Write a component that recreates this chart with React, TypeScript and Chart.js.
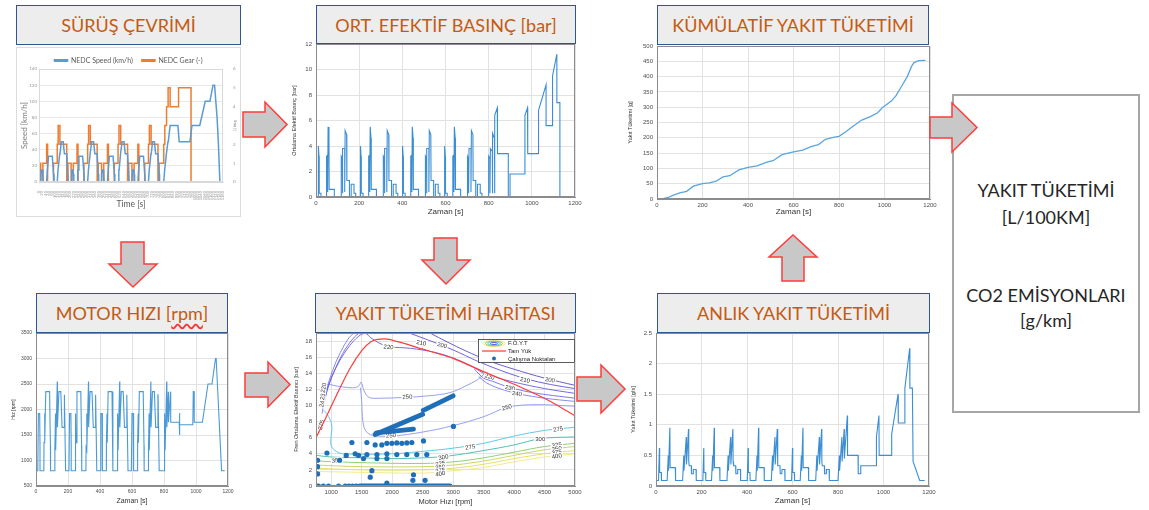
import React, { useEffect, useRef } from "react";
import { Chart, registerables } from "chart.js";

Chart.register(...registerables);

type P = [number, number];

// ---------------- DATA ----------------
// NEDC driving cycle (time s, speed km/h)
const NEDC_SPEED: P[] = [
  [0,0],[11,0],[15,15],[23,15],[25,10],[28,0],[49,0],[54,15],[56,15],[61,32],[85,32],[93,10],[96,0],[117,0],[122,15],[124,15],[133,35],[135,35],[143,50],[155,50],[163,35],[178,35],[185,10],[188,0],
  [206,0],[210,15],[218,15],[220,10],[223,0],[244,0],[249,15],[251,15],[256,32],[280,32],[288,10],[291,0],[312,0],[317,15],[319,15],[328,35],[330,35],[338,50],[350,50],[358,35],[373,35],[380,10],[383,0],
  [401,0],[405,15],[413,15],[415,10],[418,0],[439,0],[444,15],[446,15],[451,32],[475,32],[483,10],[486,0],[507,0],[512,15],[514,15],[523,35],[525,35],[533,50],[545,50],[553,35],[568,35],[575,10],[578,0],
  [596,0],[600,15],[608,15],[610,10],[613,0],[634,0],[639,15],[641,15],[646,32],[670,32],[678,10],[681,0],[702,0],[707,15],[709,15],[718,35],[720,35],[728,50],[740,50],[748,35],[763,35],[770,10],[773,0],
  [800,0],[806,15],[808,15],[817,35],[819,35],[827,50],[829,50],[841,70],[891,70],[899,50],[968,50],[981,70],[1031,70],[1066,100],[1096,100],[1116,120],[1126,120],[1142,80],[1150,50],[1160,0],[1180,0],
];
// NEDC gear (time s, gear from that time on)
const NEDC_GEAR: P[] = [
  [0,0],[11,1],[25,0],[49,1],[55,2],[93,0],[117,1],[123,2],[134,3],[178,2],[185,0],
  [206,1],[220,0],[244,1],[250,2],[288,0],[312,1],[318,2],[329,3],[373,2],[380,0],
  [401,1],[415,0],[439,1],[445,2],[483,0],[507,1],[513,2],[524,3],[568,2],[575,0],
  [596,1],[610,0],[634,1],[640,2],[678,0],[702,1],[708,2],[719,3],[763,2],[770,0],
  [800,1],[807,2],[818,3],[828,4],[841,5],[895,4],[975,5],[1160,0],[1180,0],
];
// Mean effective pressure (time s, bar)
const BMEP_BAR: P[] = [
  [0,0],[11,0],[11,4.0],[14,3.2],[15,0.3],[23,0.3],[23,0],[49,0],[49,3.2],[54,3.3],[54,0.4],[56,5.5],[60,4.6],[61,0.6],[85,0.6],[85,0],[117,0],[117,3.2],[122,3.0],[122,0.3],[124,3.8],[133,3.8],[133,0.4],[135,5.2],[142,4.9],[143,1.3],[155,1.3],[155,0],[163,0],[163,1.0],[176,1.0],[176,0.3],[184,0.3],[184,0],
  [206,0],[206,4.0],[209,3.2],[210,0.3],[218,0.3],[218,0],[244,0],[244,3.2],[249,3.3],[249,0.4],[251,5.5],[255,4.6],[256,0.6],[280,0.6],[280,0],[312,0],[312,3.2],[317,3.0],[317,0.3],[319,3.8],[328,3.8],[328,0.4],[330,5.2],[337,4.9],[338,1.3],[350,1.3],[350,0],[358,0],[358,1.0],[371,1.0],[371,0.3],[379,0.3],[379,0],
  [401,0],[401,4.0],[404,3.2],[405,0.3],[413,0.3],[413,0],[439,0],[439,3.2],[444,3.3],[444,0.4],[446,5.5],[450,4.6],[451,0.6],[475,0.6],[475,0],[507,0],[507,3.2],[512,3.0],[512,0.3],[514,3.8],[523,3.8],[523,0.4],[525,5.2],[532,4.9],[533,1.3],[545,1.3],[545,0],[553,0],[553,1.0],[566,1.0],[566,0.3],[574,0.3],[574,0],
  [596,0],[596,4.0],[599,3.2],[600,0.3],[608,0.3],[608,0],[634,0],[634,3.2],[639,3.3],[639,0.4],[641,5.5],[645,4.6],[646,0.6],[670,0.6],[670,0],[702,0],[702,3.2],[707,3.0],[707,0.3],[709,3.8],[718,3.8],[718,0.4],[720,5.2],[727,4.9],[728,1.3],[740,1.3],[740,0],[748,0],[748,1.0],[761,1.0],[761,0.3],[769,0.3],[769,0],
  [800,0],[800,3.2],[806,3.0],[806,0.3],[808,3.8],[817,3.6],[817,0.3],[819,5.0],[827,4.6],[827,0.3],[829,6.4],[840,7.0],[841,3.4],[891,3.4],[891,0],[899,0],[899,1.8],[968,1.8],[968,6.4],[980,7.0],[981,3.4],[1031,3.4],[1031,6.8],[1066,8.8],[1066,5.6],[1096,5.6],[1096,9.5],[1116,11.2],[1116,7.4],[1130,7.4],[1130,0],[1180,0],
];
// Cumulative fuel (time s, g)
const CUMULATIVE_FUEL_G: P[] = [
  [0,0],[30,2],[50,5],[70,12],[100,20],[130,25],[160,42],[200,50],[230,53],[260,58],[290,72],[320,76],[360,95],[400,103],[440,108],[480,120],[510,125],[550,145],[590,152],[640,160],[680,172],[710,178],[740,195],[780,202],[800,205],[830,220],[860,237],[900,258],[940,270],[970,282],[990,298],[1030,320],[1050,337],[1070,362],[1100,400],[1120,435],[1130,446],[1150,452],[1180,453],
];
// Engine speed (time s, rpm)
const ENGINE_SPEED_RPM: P[] = [
  [0,800],[11,800],[15,1920],[23,1920],[25,1300],[25,800],[49,800],[50,1350],[54,1920],[55,1350],[61,2350],[85,2350],[90,1300],[91,800],[117,800],[118,1250],[122,1920],[123,1200],[133,2550],[134,1650],[143,2350],[155,2350],[163,1650],[176,1650],[177,2290],[178,2290],[185,800],
  [206,800],[210,1920],[218,1920],[220,1300],[220,800],[244,800],[245,1350],[249,1920],[250,1350],[256,2350],[280,2350],[285,1300],[286,800],[312,800],[313,1250],[317,1920],[318,1200],[328,2550],[329,1650],[338,2350],[350,2350],[358,1650],[371,1650],[372,2290],[373,2290],[380,800],
  [401,800],[405,1920],[413,1920],[415,1300],[415,800],[439,800],[440,1350],[444,1920],[445,1350],[451,2350],[475,2350],[480,1300],[481,800],[507,800],[508,1250],[512,1920],[513,1200],[523,2550],[524,1650],[533,2350],[545,2350],[553,1650],[566,1650],[567,2290],[568,2290],[575,800],
  [596,800],[600,1920],[608,1920],[610,1300],[610,800],[634,800],[635,1350],[639,1920],[640,1350],[646,2350],[670,2350],[675,1300],[676,800],[702,800],[703,1250],[707,1920],[708,1200],[718,2550],[719,1650],[728,2350],[740,2350],[748,1650],[761,1650],[762,2290],[763,2290],[770,800],
  [800,800],[801,1250],[806,1920],[807,1200],[817,2550],[818,1650],[827,2350],[828,1750],[841,2350],[842,1750],[895,1750],[896,1500],[898,1930],[899,1700],[980,1700],[983,2350],[988,2350],[989,1750],[1040,1750],[1075,2500],[1100,2500],[1122,3000],[1126,3000],[1160,800],[1180,800],
];
// Instantaneous fuel consumption (time s, g/s)
const INSTANT_FUEL_GS: P[] = [
  [0,0.09],[11,0.09],[15,0.62],[16,0.22],[23,0.22],[24,0.09],[49,0.09],[54,0.5],[55,0.25],[61,0.95],[62,0.3],[85,0.3],[86,0.09],[117,0.09],[122,0.5],[123,0.25],[133,0.8],[134,0.35],[143,0.93],[144,0.4],[146,0.33],[155,0.33],[156,0.2],[163,0.2],[164,0.27],[176,0.27],[177,0.09],
  [206,0.09],[210,0.62],[211,0.22],[218,0.22],[219,0.09],[244,0.09],[249,0.5],[250,0.25],[256,0.95],[257,0.3],[280,0.3],[281,0.09],[312,0.09],[317,0.5],[318,0.25],[328,0.8],[329,0.35],[338,0.93],[339,0.4],[341,0.33],[350,0.33],[351,0.2],[358,0.2],[359,0.27],[371,0.27],[372,0.09],
  [401,0.09],[405,0.62],[406,0.22],[413,0.22],[414,0.09],[439,0.09],[444,0.5],[445,0.25],[451,0.95],[452,0.3],[475,0.3],[476,0.09],[507,0.09],[512,0.5],[513,0.25],[523,0.8],[524,0.35],[533,0.93],[534,0.4],[536,0.33],[545,0.33],[546,0.2],[553,0.2],[554,0.27],[566,0.27],[567,0.09],
  [596,0.09],[600,0.62],[601,0.22],[608,0.22],[609,0.09],[634,0.09],[639,0.5],[640,0.25],[646,0.95],[647,0.3],[670,0.3],[671,0.09],[702,0.09],[707,0.5],[708,0.25],[718,0.8],[719,0.35],[728,0.93],[729,0.4],[731,0.33],[740,0.33],[741,0.2],[748,0.2],[749,0.27],[761,0.27],[762,0.09],
  [800,0.09],[806,0.5],[807,0.25],[817,0.8],[818,0.4],[827,0.93],[828,0.45],[841,1.15],[842,0.5],[888,0.5],[889,0.2],[899,0.2],[900,0.33],[968,0.33],[969,0.8],[980,1.15],[981,0.5],[1035,0.5],[1036,0.85],[1064,1.5],[1065,1.03],[1093,1.03],[1094,1.6],[1115,2.25],[1116,1.6],[1127,1.6],[1130,0.4],[1159,0.09],[1181,0.09],
];
// Fuel map: full load curve (rpm, bar)
const FULL_LOAD: P[] = [[750,6.0],[900,8.3],[1100,11.5],[1300,14.5],[1500,16.8],[1650,17.9],[1760,18.2],[1950,18.2],[2500,17.0],[3000,15.85],[3500,14.2],[4100,12.3],[4600,10.5],[5000,8.7]];
// BSFC contour lines (g/kWh) – each a list of segments of (rpm, bar)
const BSFC_200: P[][] = [[[2620,19],[2900,17.9],[3200,16.8],[3600,15.5],[4000,14.5],[4500,13.4],[5000,12.5]]];
const BSFC_210: P[][] = [[[2280,19],[2600,18.1],[3000,16.9],[3400,15.5],[3800,14.3],[4200,13.3],[4600,12.6],[5000,12.1]]];
const BSFC_220: P[][] = [[[870,10.2],[970,12.8],[1120,15.3],[1300,17.4],[1450,18.6],[1560,18.95],[1650,18.4],[1800,17.7],[1950,17.3],[2300,17.1],[2700,16.6],[3000,15.9],[3300,14.9],[3500,14.0],[3700,13.5],[4000,12.9],[4500,12.1],[5000,11.5]]];
const BSFC_230: P[][] = [
  [[860,9.6],[950,12.3],[1080,14.8],[1230,17.0],[1380,18.5],[1460,19]],
  [[3350,14.5],[3500,13.4],[3650,13.0],[3900,12.3],[4300,11.6],[5000,10.9]],
];
const BSFC_240: P[][] = [
  [[850,9.0],[920,11.8],[1020,14.3],[1150,16.6],[1290,18.4],[1370,19]],
  [[3420,13.6],[3550,12.8],[3800,12.0],[4100,11.4],[4500,10.9],[5000,10.5]],
];
const BSFC_250: P[][] = [
  [[830,11.6],[900,12.6],[1100,12.4],[1350,12.2],[1450,12.4],[1490,12.9],[1540,11.8],[1620,11.0],[1800,10.9],[2200,11.0],[2600,11.2],[2950,11.6],[3200,12.4],[3400,13.2],[3520,14.0]],
  [[1480,12.2],[1500,10.5],[1520,8.0],[1570,6.8],[1680,6.3],[2000,6.2],[2500,6.7],[3000,7.5],[3500,8.6],[3900,9.8],[4400,10.1],[5000,9.9]],
];
const BSFC_275: P[][] = [[[880,9.4],[960,8.6],[1010,7.4],[995,6.0],[1000,5.0],[1080,4.3],[1200,4.0],[2000,4.0],[2500,4.3],[3000,4.7],[3500,5.3],[4000,6.2],[4500,6.9],[5000,7.3]]];
const BSFC_300: P[][] = [[[760,3.8],[1000,3.6],[1500,3.5],[2000,3.4],[2500,3.5],[2900,3.7],[3500,4.4],[4000,5.1],[4450,5.9],[5000,6.1]]];
const BSFC_325: P[][] = [[[760,3.1],[1500,2.9],[2500,2.8],[3000,3.0],[3500,3.5],[4000,4.2],[4500,4.9],[5000,5.3]]];
const BSFC_350: P[][] = [[[760,2.6],[1500,2.4],[2500,2.4],[3000,2.6],[3500,3.1],[4000,3.8],[4500,4.5],[5000,4.9]]];
const BSFC_375: P[][] = [[[760,2.2],[1500,2.0],[2500,2.0],[3000,2.2],[3500,2.7],[4000,3.4],[4500,4.0],[5000,4.4]]];
const BSFC_400: P[][] = [[[760,1.8],[1500,1.7],[2500,1.6],[3000,1.9],[3500,2.3],[4000,3.0],[4500,3.6],[5000,4.0]]];
const BSFC_LEVELS: [number, P[][]][] = [[200,BSFC_200],[210,BSFC_210],[220,BSFC_220],[230,BSFC_230],[240,BSFC_240],[250,BSFC_250],[275,BSFC_275],[300,BSFC_300],[325,BSFC_325],[350,BSFC_350],[375,BSFC_375],[400,BSFC_400]];
// contour labels: text, rpm, bar, angle (deg)
const CONTOUR_LABELS: [string, number, number, number][] = [
  ["220",1940,17.3,5],["210",2480,17.8,12],["200",2820,17.5,15],
  ["220",3600,13.6,15],["210",4180,13.2,12],["200",4590,13.2,10],["230",3934,12.2,12],["240",4050,11.5,10],
  ["250",3880,9.8,-15],["275",4720,7.1,-10],["300",4430,5.9,0],
  ["250",2250,11.1,-3],["250",1980,6.3,-3],["275",3280,4.85,-8],["300",2840,3.6,-10],["350",1090,3.2,-8],
  ["325",4700,5.1,-8],["350",4700,4.65,-8],["375",4700,4.2,-8],["400",4700,3.75,-8],
  ["325",2790,2.8,-10],["350",2790,2.35,-10],["375",2790,1.95,-10],["400",2790,1.55,-10],
  ["240",850,10.4,-80],["230",860,11.3,-80],["220",870,12.2,-80],["275",830,7.6,-75],
];
// Operating points (rpm, bar)
const OP_POINTS: P[] = [
  [790,0],[870,0],[955,0],[1120,0],[1230,0],[1290,0],[1350,0],[1410,0],[1470,0],
  [776,3.2],[776,2.4],[776,1.5],[930,4.1],[1137,3.2],[1246,3.8],[1393,4.0],[1448,3.8],[1530,3.4],[1585,3.9],[1750,3.9],[1750,3.4],[1913,4.0],[1913,3.4],[2076,3.9],[2240,3.9],[2404,3.9],[2568,3.9],
  [1339,5.4],[1585,5.4],[1721,5.1],[1830,5.1],[1913,5.3],[1995,5.3],[2076,5.35],[2158,5.3],[2240,5.35],[2322,5.4],[2514,5.6],
  [1667,1.9],[1640,1.1],[2350,1.4],[2340,0.7],[2540,0.7],[1913,0.37],[3005,7.4],
];
// Dense runs of operating points (start, end)
const OP_STREAKS: P[][] = [[[1500,0],[2950,0]],[[1720,6.4],[2500,8.9]],[[1740,6.6],[2350,7.05]],[[2510,9.4],[3000,11.2]]];
const MAP_LEGEND_LABELS = ["F.Ö.Y.T", "Tam Yük", "Çalışma Noktaları"];
const RESULT_LINES = ["YAKIT TÜKETİMİ", "[L/100KM]", "CO2 EMİSYONLARI", "[g/km]"];

// ---------------- STYLE ----------------
const FONT_M = "'Liberation Sans', Arial, sans-serif";
const FONT_C = "Lato, 'Open Sans', sans-serif";
const M_BLUE = "#3b8ed4";
const BSFC_COLORS: Record<number, string> = {
  200: "#5a4ccc", 210: "#6152d6", 220: "#675be0", 230: "#6f68e8", 240: "#7a7ded", 250: "#8b95f2",
  275: "#4fc3e8", 300: "#3dbca8", 325: "#86c96a", 350: "#c5d24e", 375: "#e8da52", 400: "#f3e77e",
};

const xy = (p: P) => ({ x: p[0], y: p[1] });
const plainTick = (v: any) => String(v);

function framePlugin(color: string) {
  return {
    id: "frame",
    afterDatasetsDraw(chart: any) {
      const { ctx, chartArea: a } = chart;
      ctx.save();
      ctx.strokeStyle = color;
      ctx.lineWidth = 1;
      ctx.strokeRect(Math.round(a.left) + 0.5, Math.round(a.top) + 0.5, Math.round(a.width) - 1, Math.round(a.height) - 1);
      ctx.restore();
    },
  };
}

function geom(L: number, T: number, R: number, B: number, yTitleX: number, xTitleY: number, yts: number, xts: number) {
  const padTop = 8, padRight = 12;
  const left = Math.round(yTitleX - yts * 0.6);
  const bottom = Math.round(xTitleY + xts * 0.6);
  return { left, top: T - padTop, width: R + padRight - left, height: bottom - (T - padTop), yW: L - left, xH: bottom - B, padTop, padRight };
}

function matlabOptions(g: any, o: any) {
  const grid = { color: "#e2e2e2", lineWidth: 1, drawTicks: false };
  return {
    responsive: false,
    animation: false,
    devicePixelRatio: 1,
    events: [],
    layout: { padding: { top: g.padTop, right: g.padRight, left: 0, bottom: 0 } },
    plugins: { legend: { display: false }, tooltip: { enabled: false } },
    scales: {
      x: {
        type: "linear", min: o.xMin, max: o.xMax,
        ticks: { stepSize: o.xStep, autoSkip: false, maxRotation: 0, font: { family: FONT_M, size: o.tickSize }, color: "#4d4d4d", padding: 3, callback: plainTick },
        grid, border: { color: "#8c8c8c" },
        title: { display: true, text: o.xTitle, font: { family: FONT_M, size: o.xts }, color: "#333", padding: 0 },
        afterFit: (s: any) => { s.height = g.xH; },
        afterBuildTicks: o.keepX ? (s: any) => { s.ticks = s.ticks.filter((t: any) => o.keepX(t.value)); } : undefined,
      },
      y: {
        type: "linear", min: o.yMin, max: o.yMax,
        ticks: { stepSize: o.yStep, autoSkip: false, font: { family: FONT_M, size: o.tickSize }, color: "#4d4d4d", padding: 4, callback: plainTick },
        grid, border: { color: "#8c8c8c" },
        title: { display: true, text: o.yTitle, font: { family: FONT_M, size: o.yts }, color: "#333", padding: 0 },
        afterFit: (s: any) => { s.width = g.yW; },
        afterBuildTicks: o.keepY ? (s: any) => { s.ticks = s.ticks.filter((t: any) => o.keepY(t.value)); } : undefined,
      },
    },
  };
}

function lineSet(data: P[], color = M_BLUE, width = 1.1) {
  return { data: data.map(xy), borderColor: color, backgroundColor: color, borderWidth: width, pointRadius: 0, tension: 0, fill: false };
}

function ChartCanvas({ g, make }: { g: any; make: () => any }) {
  const ref = useRef<HTMLCanvasElement>(null);
  useEffect(() => {
    const chart = new Chart(ref.current as HTMLCanvasElement, make());
    return () => chart.destroy();
  }, []);
  return (
    <canvas
      ref={ref}
      width={g.width}
      height={g.height}
      style={{ position: "absolute", left: g.left, top: g.top, width: g.width, height: g.height, zIndex: 2 }}
    />
  );
}

// ---------------- Charts ----------------
const G_BMEP = geom(316, 44, 575, 197, 294, 212.5, 5.5, 8);
const G_CUM = geom(657, 46, 930, 199, 630, 212.5, 5.5, 8);
const G_RPM = geom(36, 333, 228, 486, 14, 501, 5, 7);
const G_MAP = geom(316, 333, 575, 486, 296, 501, 5.5, 7.5);
const G_INST = geom(656, 333, 929, 486, 633, 501, 5.5, 8);
const G_NEDC = { left: 17, top: 48, width: 223, height: 168 };

function makeNedc() {
  return {
    type: "line",
    data: {
      datasets: [
        { label: "NEDC Speed (km/h)", data: NEDC_SPEED.map(xy), borderColor: "#5B9BD5", backgroundColor: "#5B9BD5", borderWidth: 1.5, pointRadius: 0, yAxisID: "y" },
        { label: "NEDC Gear (-)", data: NEDC_GEAR.map(xy), borderColor: "#ED7D31", backgroundColor: "#ED7D31", borderWidth: 1.5, pointRadius: 0, stepped: "after", yAxisID: "y1" },
      ],
    },
    options: {
      responsive: false, animation: false, devicePixelRatio: 1, events: [],
      layout: { padding: 0 },
      plugins: {
        legend: {
          display: true, position: "top", maxHeight: 21,
          labels: { boxWidth: 13, boxHeight: 1.5, padding: 9, font: { family: FONT_C, size: 7 }, color: "#595959" },
        },
        tooltip: { enabled: false },
      },
      scales: {
        x: {
          type: "linear", min: 0, max: 1180,
          ticks: { stepSize: 20, autoSkip: false, maxRotation: 90, minRotation: 90, font: { family: FONT_C, size: 4 }, color: "#9a9a9a", padding: 1, callback: plainTick },
          grid: { display: false }, border: { color: "#d9d9d9" },
          title: { display: true, text: "Time [s]", font: { family: FONT_C, size: 8.5 }, color: "#595959", padding: { top: 0, bottom: 7 } },
          afterFit: (s: any) => { s.height = 34; },
        },
        y: {
          position: "left", min: 0, max: 140,
          ticks: { stepSize: 20, font: { family: FONT_C, size: 4.5 }, color: "#9a9a9a", padding: 2, callback: plainTick },
          grid: { color: "#e8e8e8", drawTicks: false }, border: { display: false },
          title: { display: true, text: "Speed [km/h]", font: { family: FONT_C, size: 8 }, color: "#7f7f7f", padding: { top: 3, bottom: 0 } },
          afterFit: (s: any) => { s.width = 22; },
        },
        y1: {
          position: "right", min: 0, max: 6,
          ticks: { stepSize: 1, font: { family: FONT_C, size: 4.5 }, color: "#9a9a9a", padding: 2, callback: plainTick },
          grid: { display: false }, border: { display: false },
          title: { display: true, text: "Gear [-]", font: { family: FONT_C, size: 3.5 }, color: "#7f7f7f", padding: { top: 3, bottom: 0 } },
          afterFit: (s: any) => { s.width = 17; },
        },
      },
    },
    plugins: [framePlugin("#d9d9d9")],
  };
}

function makeBmep() {
  return {
    type: "line",
    data: { datasets: [lineSet(BMEP_BAR)] },
    options: matlabOptions(G_BMEP, { xMin: 0, xMax: 1200, xStep: 200, yMin: 0, yMax: 12, yStep: 2, xTitle: "Zaman [s]", yTitle: "Ortalama Efektif Basınç [bar]", tickSize: 6, xts: 8, yts: 5.5 }),
    plugins: [framePlugin("#8c8c8c")],
  };
}

function makeCum() {
  return {
    type: "line",
    data: { datasets: [lineSet(CUMULATIVE_FUEL_G, "#5aa5dd", 1.3)] },
    options: matlabOptions(G_CUM, { xMin: 0, xMax: 1200, xStep: 200, yMin: 0, yMax: 500, yStep: 50, xTitle: "Zaman [s]", yTitle: "Yakıt Tüketimi [g]", tickSize: 6, xts: 8, yts: 5.5 }),
    plugins: [framePlugin("#8c8c8c")],
  };
}

function makeRpm() {
  return {
    type: "line",
    data: { datasets: [lineSet(ENGINE_SPEED_RPM, "#4a9ad8", 1.1)] },
    options: matlabOptions(G_RPM, { xMin: 0, xMax: 1200, xStep: 200, yMin: 500, yMax: 3500, yStep: 500, xTitle: "Zaman [s]", yTitle: "Hız [rpm]", tickSize: 5, xts: 7, yts: 5 }),
    plugins: [framePlugin("#8c8c8c")],
  };
}

function makeInst() {
  return {
    type: "line",
    data: { datasets: [lineSet(INSTANT_FUEL_GS)] },
    options: matlabOptions(G_INST, { xMin: 0, xMax: 1200, xStep: 200, yMin: 0, yMax: 2.5, yStep: 0.5, xTitle: "Zaman [s]", yTitle: "Yakıt Tüketimi [g/s]", tickSize: 6, xts: 8, yts: 5.5 }),
    plugins: [framePlugin("#8c8c8c")],
  };
}

function makeMap() {
  const MAP_BLUE = "#1f6fb8";
  const datasets: any[] = [];
  datasets.push({ data: OP_POINTS.map(xy), showLine: false, pointRadius: 2.6, pointBackgroundColor: MAP_BLUE, pointBorderWidth: 0, borderColor: MAP_BLUE });
  OP_STREAKS.forEach((s) => datasets.push({ data: s.map(xy), borderColor: MAP_BLUE, borderWidth: 4.8, borderCapStyle: "round", pointRadius: 0 }));
  const fullLoadIndex = datasets.length;
  datasets.push({ data: FULL_LOAD.map(xy), borderColor: "#ff3b3b", borderWidth: 1.2, pointRadius: 0, tension: 0.2 });
  BSFC_LEVELS.forEach(([lvl, segs]) =>
    segs.forEach((seg) => datasets.push({ data: seg.map(xy), borderColor: BSFC_COLORS[lvl], borderWidth: 0.9, pointRadius: 0, tension: 0.35 }))
  );

  const labelPlugin = {
    id: "contourLabels",
    beforeDatasetDraw(chart: any, args: any) {
      if (args.index !== fullLoadIndex) return;
      const { ctx, scales, chartArea: a } = chart;
      ctx.save();
      ctx.beginPath();
      ctx.rect(a.left, a.top, a.width, a.height);
      ctx.clip();
      ctx.font = `6px ${FONT_M}`;
      ctx.textAlign = "center";
      ctx.textBaseline = "middle";
      for (const [t, vx, vy, ang] of CONTOUR_LABELS) {
        const px = scales.x.getPixelForValue(vx);
        const py = scales.y.getPixelForValue(vy);
        ctx.save();
        ctx.translate(px, py);
        ctx.rotate((ang * Math.PI) / 180);
        const w = ctx.measureText(t).width + 2;
        ctx.fillStyle = "#fff";
        ctx.fillRect(-w / 2, -3, w, 6);
        ctx.fillStyle = "#333";
        ctx.fillText(t, 0, 0.5);
        ctx.restore();
      }
      ctx.restore();
    },
  };

  const legendPlugin = {
    id: "mapLegend",
    afterDraw(chart: any) {
      const { ctx, chartArea: a } = chart;
      const w = 97, h = 24;
      const x = Math.round(a.right) - w, y = Math.round(a.top) + 6;
      ctx.save();
      ctx.fillStyle = "#fff";
      ctx.fillRect(x, y, w, h);
      ctx.strokeStyle = "#333";
      ctx.lineWidth = 0.8;
      ctx.strokeRect(x + 0.5, y + 0.5, w - 1, h - 1);
      const cx = x + 16;
      const rings: [number, number, number][] = [[400, 11, 3], [325, 8.5, 2.3], [275, 6, 1.7], [220, 3.5, 1]];
      rings.forEach(([lvl, rx, ry]) => {
        ctx.beginPath();
        ctx.ellipse(cx, y + 4.5, rx, ry, 0, 0, Math.PI * 2);
        ctx.strokeStyle = BSFC_COLORS[lvl];
        ctx.lineWidth = 1;
        ctx.stroke();
      });
      ctx.beginPath();
      ctx.moveTo(x + 4, y + 12);
      ctx.lineTo(x + 28, y + 12);
      ctx.strokeStyle = "#ff3b3b";
      ctx.lineWidth = 1.2;
      ctx.stroke();
      ctx.beginPath();
      ctx.arc(cx, y + 19.5, 2, 0, Math.PI * 2);
      ctx.fillStyle = MAP_BLUE;
      ctx.fill();
      ctx.fillStyle = "#222";
      ctx.font = `6px ${FONT_M}`;
      ctx.textAlign = "left";
      ctx.textBaseline = "middle";
      MAP_LEGEND_LABELS.forEach((t, i) => ctx.fillText(t, x + 30, y + 4.5 + i * 7.7));
      ctx.restore();
    },
  };

  return {
    type: "line",
    data: { datasets },
    options: matlabOptions(G_MAP, {
      xMin: 750, xMax: 5000, xStep: 250, yMin: 0, yMax: 19, yStep: 1,
      xTitle: "Motor Hızı [rpm]", yTitle: "Fren Ortalama Efektif Basıncı [bar]", tickSize: 6, xts: 7.5, yts: 5.5,
      keepX: (v: number) => v >= 1000 && v % 500 === 0,
      keepY: (v: number) => v % 2 === 0 && v <= 18,
    }),
    plugins: [labelPlugin, legendPlugin, framePlugin("#8c8c8c")],
  };
}

// ---------------- Diagram pieces ----------------
function TitleBox({ x1, y1, x2, y2, children }: any) {
  return (
    <div
      style={{
        position: "absolute", left: x1, top: y1, width: x2 - x1, height: y2 - y1, boxSizing: "border-box",
        border: "1.5px solid #2F5597", background: "#EDEDED", display: "flex", alignItems: "center", justifyContent: "center",
        fontFamily: FONT_C, fontSize: 18, color: "#C55A11", zIndex: 5, whiteSpace: "nowrap",
      }}
    >
      {children}
    </div>
  );
}

const ARROWS = [
  "243,112 265,112 265,102 287,124.5 265,147 265,137 243,137",
  "930,117 952,117 952,103 977,127.5 952,152 952,138 930,138",
  "245,373 268,373 268,362 290,384.5 268,407 268,397 245,397",
  "577,377 601,377 601,365 625,389 601,413 601,401 577,401",
  "121,242 144,242 144,264 157,264 133,287 109,264 121,264",
  "434,238 457,238 457,260 470,260 446,284 422,260 434,260",
  "782,281 804,281 804,257 817,257 793,235 769,257 782,257",
];
const RESULT_LINE_Y = [190, 217, 295, 320];

export default function App() {
  return (
    <div style={{ position: "absolute", left: 0, top: 0, width: 1149, height: 510, background: "#fff", overflow: "hidden" }}>
      {/* Panel 1 background */}
      <div style={{ position: "absolute", left: 16, top: 47, width: 225, height: 170, boxSizing: "border-box", border: "1px solid #dcdcdc", background: "#fff", zIndex: 1 }} />
      <ChartCanvas g={G_NEDC} make={makeNedc} />
      <ChartCanvas g={G_BMEP} make={makeBmep} />
      <ChartCanvas g={G_CUM} make={makeCum} />
      <ChartCanvas g={G_RPM} make={makeRpm} />
      <ChartCanvas g={G_MAP} make={makeMap} />
      <ChartCanvas g={G_INST} make={makeInst} />

      <TitleBox x1={16} y1={5} x2={241} y2={45}>SÜRÜŞ ÇEVRİMİ</TitleBox>
      <TitleBox x1={316} y1={5} x2={576} y2={44}>ORT. EFEKTİF BASINÇ [bar]</TitleBox>
      <TitleBox x1={657} y1={5} x2={929} y2={45}>KÜMÜLATİF YAKIT TÜKETİMİ</TitleBox>
      <TitleBox x1={36} y1={293} x2={228} y2={333}>
        MOTOR HIZI [<span style={{ textDecoration: "underline wavy #ff3030", textUnderlineOffset: 3 }}>rpm</span>]
      </TitleBox>
      <TitleBox x1={315} y1={293} x2={576} y2={333}>YAKIT TÜKETİMİ HARİTASI</TitleBox>
      <TitleBox x1={657} y1={293} x2={930} y2={333}>ANLIK YAKIT TÜKETİMİ</TitleBox>

      <div
        style={{
          position: "absolute", left: 952, top: 94, width: 188, height: 319, boxSizing: "border-box",
          border: "2px solid #A6A6A6", background: "#fff", zIndex: 4, fontFamily: FONT_C, fontSize: 18, color: "#262626",
        }}
      >
        {RESULT_LINES.map((t, i) => (
          <div key={t} style={{ position: "absolute", left: 0, right: 0, top: RESULT_LINE_Y[i] - 96 - 11, height: 22, lineHeight: "22px", textAlign: "center", whiteSpace: "nowrap" }}>
            {t}
          </div>
        ))}
      </div>

      <svg width={1149} height={510} style={{ position: "absolute", left: 0, top: 0, zIndex: 6, pointerEvents: "none" }}>
        {ARROWS.map((pts, i) => (
          <polygon key={i} points={pts} fill="#C8C8C8" stroke="#FF3B3B" strokeWidth={1.5} strokeLinejoin="miter" />
        ))}
      </svg>
    </div>
  );
}
